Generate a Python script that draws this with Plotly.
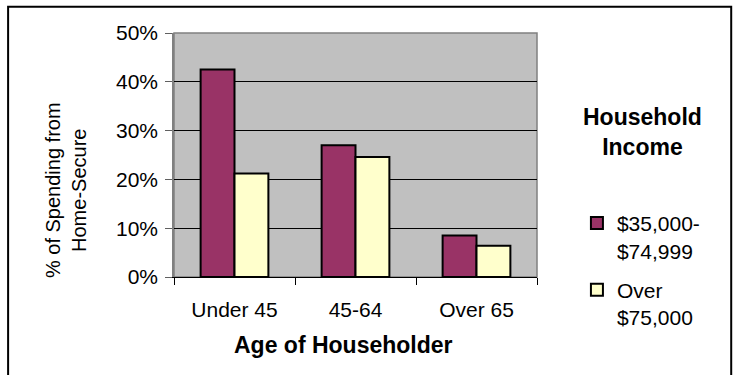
import plotly.graph_objects as go

# Share of spending from home-secure households, by age of householder
age_groups = ["Under 45", "45-64", "Over 65"]
income_mid = [0.425, 0.27, 0.085]      # $35,000-$74,999
income_high = [0.212, 0.246, 0.064]    # Over $75,000
series_names = ["$35,000-<br>$74,999", "Over<br>$75,000"]
y_ticks = [0, 0.1, 0.2, 0.3, 0.4, 0.5]

FONT = "Liberation Sans, Arial, sans-serif"

fig = go.Figure()
fig.add_trace(go.Bar(
    x=age_groups, y=income_mid, name=series_names[0], legendgroup="a",
    marker=dict(color="#993366", line=dict(color="black", width=2)),
))
fig.add_trace(go.Bar(
    x=age_groups, y=income_high, name=series_names[1], legendgroup="b",
    marker=dict(color="#FFFFCC", line=dict(color="black", width=2)),
))

fig.update_layout(
    width=733, height=375,
    margin=dict(l=174, r=196, t=33, b=98),
    paper_bgcolor="white",
    plot_bgcolor="#C0C0C0",
    barmode="group", bargap=0.44, bargroupgap=0,
    font=dict(family=FONT, size=21, color="black"),
    showlegend=True,
    legend=dict(
        x=1.11, y=0.027, xanchor="left", yanchor="middle",
        valign="top", tracegroupgap=9,
        font=dict(family=FONT, size=21),
        bgcolor="rgba(0,0,0,0)",
    ),
    xaxis=dict(
        showline=True, linecolor="black", linewidth=1,
        ticks="outside", tickson="boundaries", ticklen=7,
        tickcolor="black", showgrid=False,
        tickfont=dict(size=21), ticklabelstandoff=14,
    ),
    yaxis=dict(
        range=[0, 0.5], tickvals=y_ticks, tickformat=".0%",
        showline=True, linecolor="#808080", linewidth=1.5,
        ticks="outside", ticklen=7, tickcolor="#606060",
        showgrid=True, gridcolor="black", gridwidth=1,
        zeroline=True, zerolinecolor="black", zerolinewidth=1,
        tickfont=dict(size=21), ticklabelstandoff=3,
    ),
    shapes=[
        # plot area border
        dict(type="rect", xref="paper", yref="paper", x0=0, x1=1, y0=0, y1=1,
             line=dict(color="#808080", width=1.5), layer="below"),
        # outer chart frame
        dict(type="rect", xref="paper", yref="paper",
             x0=-0.457, x1=1.535, y0=-0.43, y1=1.108,
             line=dict(color="black", width=2)),
    ],
    annotations=[
        dict(text="% of Spending from<br>Home-Secure", textangle=-90,
             xref="paper", yref="paper", x=-0.297, y=0.357,
             xanchor="center", yanchor="middle", showarrow=False,
             font=dict(family=FONT, size=20)),
        dict(text="<b>Age of Householder</b>",
             xref="paper", yref="paper", x=0.468, y=-0.279,
             xanchor="center", yanchor="middle", showarrow=False,
             font=dict(family=FONT, size=23)),
        dict(text="<b>Household<br>Income</b>",
             xref="paper", yref="paper", x=1.292, y=0.594,
             xanchor="center", yanchor="middle", showarrow=False,
             font=dict(family=FONT, size=23)),
    ],
)

fig.write_html("out.html")
